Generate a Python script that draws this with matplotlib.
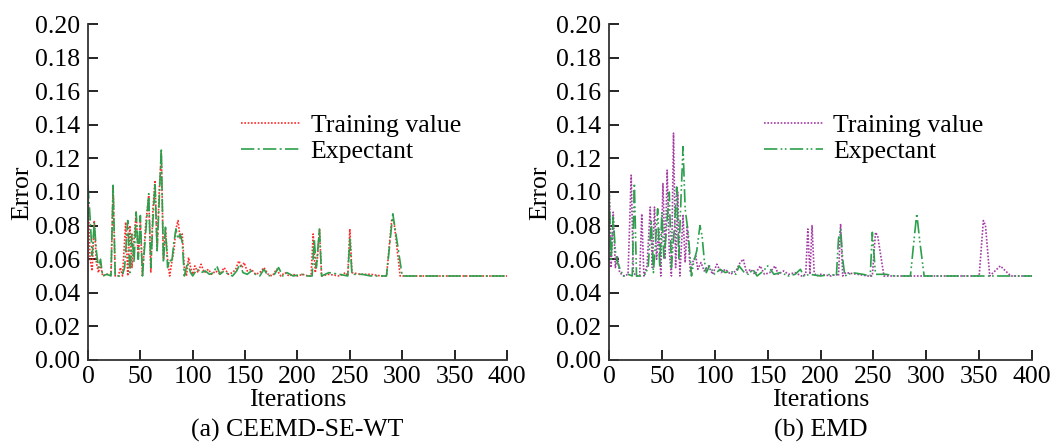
import matplotlib
matplotlib.use("Agg")
import matplotlib.pyplot as plt
from matplotlib.ticker import FormatStrFormatter

plt.rcParams['font.family'] = ['Liberation Serif', 'DejaVu Serif']

# (a) CEEMD-SE-WT
a_train_x = [0, 2, 4, 6, 8, 10, 12, 14, 18, 22, 24, 26, 29, 31, 33, 36, 38, 40, 42, 44,
             46, 48, 50, 52, 55, 58, 60, 62, 64, 66, 68, 70, 72, 74, 76, 78, 80, 82, 84, 86,
             88, 90, 92, 94, 96, 98, 100, 102, 105, 108, 111, 115, 118, 122, 126, 130, 134,
             138, 141, 144, 147, 149, 152, 156, 160, 164, 168, 172, 176, 180, 184, 188, 192,
             196, 200, 205, 210, 213, 215, 217, 219, 221, 223, 230, 240, 246, 248, 250, 252,
             260, 270, 280, 285, 290, 292, 298, 400]
a_train_y = [0.100, 0.060, 0.053, 0.083, 0.058, 0.052, 0.057, 0.050, 0.051, 0.051, 0.103,
             0.050, 0.050, 0.055, 0.050, 0.082, 0.050, 0.080, 0.055, 0.072, 0.088, 0.060,
             0.082, 0.050, 0.080, 0.098, 0.052, 0.090, 0.107, 0.066, 0.100, 0.123, 0.060,
             0.078, 0.060, 0.050, 0.058, 0.065, 0.078, 0.083, 0.072, 0.075, 0.055, 0.050,
             0.061, 0.055, 0.051, 0.056, 0.052, 0.057, 0.052, 0.054, 0.051, 0.053, 0.051,
             0.055, 0.051, 0.052, 0.054, 0.059, 0.055, 0.058, 0.053, 0.054, 0.051, 0.052,
             0.055, 0.051, 0.050, 0.054, 0.050, 0.052, 0.050, 0.051, 0.050, 0.051, 0.050,
             0.050, 0.075, 0.052, 0.060, 0.078, 0.050, 0.051, 0.050, 0.052, 0.050, 0.078,
             0.052, 0.051, 0.051, 0.050, 0.050, 0.084, 0.083, 0.050, 0.050]
a_exp_x = [0, 2, 4, 6, 8, 10, 12, 14, 18, 22, 24, 26, 30, 33, 35, 38, 40, 42, 44, 46,
           48, 50, 52, 55, 58, 60, 62, 64, 66, 68, 70, 72, 74, 76, 78, 80, 82, 84, 86, 88,
           90, 92, 95, 98, 100, 104, 108, 112, 116, 120, 123, 126, 130, 134, 138, 142, 145,
           148, 152, 156, 160, 164, 168, 172, 178, 182, 186, 190, 196, 204, 210, 214, 216,
           218, 221, 223, 230, 240, 248, 250, 252, 262, 270, 285, 291, 294, 300, 400]
a_exp_y = [0.104, 0.085, 0.062, 0.082, 0.065, 0.055, 0.060, 0.050, 0.051, 0.050, 0.104,
           0.050, 0.050, 0.051, 0.055, 0.083, 0.052, 0.075, 0.058, 0.088, 0.060, 0.086,
           0.050, 0.075, 0.099, 0.055, 0.083, 0.105, 0.065, 0.095, 0.126, 0.058, 0.079,
           0.055, 0.060, 0.058, 0.070, 0.078, 0.072, 0.075, 0.070, 0.050, 0.058, 0.052,
           0.050, 0.054, 0.052, 0.053, 0.051, 0.052, 0.056, 0.051, 0.053, 0.051, 0.050,
           0.053, 0.057, 0.052, 0.051, 0.053, 0.051, 0.050, 0.054, 0.050, 0.051, 0.055,
           0.050, 0.052, 0.050, 0.051, 0.050, 0.050, 0.072, 0.055, 0.078, 0.050, 0.052,
           0.051, 0.050, 0.072, 0.051, 0.051, 0.050, 0.050, 0.087, 0.075, 0.050, 0.050]

# (b) EMD
b_train_x = [0, 2, 4, 6, 8, 10, 12, 14, 18, 21, 23, 26, 29, 31, 33, 36, 39, 41, 43, 45,
             47, 49, 51, 53, 55, 57, 59, 61, 63, 65, 67, 70, 72, 74, 77, 79, 82, 84, 87, 90,
             94, 98, 102, 106, 110, 115, 120, 124, 127, 130, 134, 138, 143, 147, 152, 157,
             160, 165, 170, 176, 182, 186, 188, 190, 192, 194, 196, 200, 210, 215, 217, 219,
             221, 224, 235, 245, 249, 252, 254, 260, 270, 300, 340, 350, 354, 356, 360, 370,
             380, 400]
b_train_y = [0.110, 0.055, 0.088, 0.055, 0.062, 0.052, 0.051, 0.050, 0.051, 0.110, 0.052,
             0.050, 0.050, 0.087, 0.050, 0.056, 0.091, 0.055, 0.091, 0.060, 0.078, 0.050,
             0.105, 0.060, 0.113, 0.065, 0.050, 0.135, 0.055, 0.100, 0.050, 0.086, 0.058,
             0.080, 0.052, 0.058, 0.062, 0.054, 0.058, 0.053, 0.056, 0.051, 0.057, 0.052,
             0.054, 0.051, 0.053, 0.058, 0.060, 0.052, 0.054, 0.051, 0.056, 0.051, 0.052,
             0.056, 0.051, 0.053, 0.051, 0.052, 0.050, 0.051, 0.078, 0.051, 0.080, 0.052,
             0.050, 0.051, 0.050, 0.051, 0.050, 0.081, 0.050, 0.052, 0.051, 0.050, 0.050,
             0.076, 0.074, 0.050, 0.050, 0.050, 0.050, 0.050, 0.083, 0.080, 0.050, 0.056,
             0.050, 0.050]
b_exp_x = [0, 2, 4, 6, 8, 10, 12, 14, 18, 22, 24, 26, 30, 34, 37, 40, 42, 44, 46, 48,
           50, 52, 54, 57, 59, 62, 64, 66, 68, 70, 72, 75, 78, 80, 83, 86, 88, 90, 92, 95,
           100, 105, 110, 115, 120, 123, 128, 132, 136, 140, 146, 150, 156, 162, 170, 176,
           181, 184, 190, 200, 210, 215, 217, 219, 221, 223, 230, 240, 247, 249, 252, 262,
           270, 285, 289, 291, 294, 298, 360, 365, 380, 400]
b_exp_y = [0.104, 0.060, 0.085, 0.065, 0.058, 0.055, 0.052, 0.050, 0.051, 0.050, 0.105,
           0.050, 0.050, 0.051, 0.055, 0.083, 0.052, 0.070, 0.090, 0.055, 0.088, 0.060,
           0.075, 0.100, 0.055, 0.080, 0.103, 0.060, 0.095, 0.127, 0.090, 0.075, 0.050,
           0.058, 0.065, 0.080, 0.074, 0.060, 0.052, 0.056, 0.051, 0.054, 0.052, 0.053,
           0.051, 0.056, 0.052, 0.051, 0.054, 0.050, 0.053, 0.056, 0.051, 0.052, 0.050,
           0.051, 0.054, 0.050, 0.051, 0.050, 0.051, 0.050, 0.072, 0.078, 0.060, 0.050,
           0.052, 0.051, 0.050, 0.076, 0.051, 0.051, 0.050, 0.050, 0.075, 0.087, 0.070,
           0.050, 0.050, 0.050, 0.050, 0.050]

panels = [
    (a_train_x, a_train_y, a_exp_x, a_exp_y, '#ff2a2a', (8, 2, 1.2, 2), '(a) CEEMD-SE-WT', -0.157),
    (b_train_x, b_train_y, b_exp_x, b_exp_y, '#a43ca4', (8, 2, 1, 1.5, 1, 2), '(b) EMD', -0.163),
]
positions = [[0.0833, 0.1874, 0.3968, 0.7584], [0.5767, 0.1874, 0.4006, 0.7584]]

fig = plt.figure(figsize=(10.56, 4.43), dpi=100)

for pos, (tx, ty, ex, ey, tcol, edash, title, ylab_x) in zip(positions, panels):
    ax = fig.add_axes(pos)
    ax.plot(tx, ty, color=tcol, lw=1.2, dashes=(1, 1), label='Training value')
    ax.plot(ex, ey, color='#2ca04c', lw=1.2, dashes=edash, label='Expectant')
    ax.set_xlim(0, 400)
    ax.set_ylim(0, 0.2)
    ax.set_xticks(range(0, 401, 50))
    ax.set_yticks([i * 0.02 for i in range(11)])
    ax.yaxis.set_major_formatter(FormatStrFormatter('%.2f'))
    for s in ['top', 'right']:
        ax.spines[s].set_visible(False)
    for s in ['left', 'bottom']:
        ax.spines[s].set_linewidth(1.3)
        ax.spines[s].set_color('#333333')
    ax.tick_params(direction='in', length=7, width=1.2, labelsize=18.5, pad=6)
    ax.tick_params(axis='x', pad=4)
    ax.set_xlabel('Iterations', fontsize=18.5, va='center')
    ax.xaxis.set_label_coords(0.5, -0.12)
    ax.set_ylabel('Error', fontsize=18.5, va='center')
    ax.yaxis.set_label_coords(ylab_x, 0.497)
    ax.text(0.5, -0.21, title, transform=ax.transAxes, ha='center', va='center', fontsize=18.5)
    ax.legend(loc='upper left', bbox_to_anchor=(0.335, 0.77), frameon=False, fontsize=18.5,
              handlelength=2.3, handletextpad=0.4, labelspacing=0.12, borderpad=0)

plt.savefig('out.png', dpi=100)
